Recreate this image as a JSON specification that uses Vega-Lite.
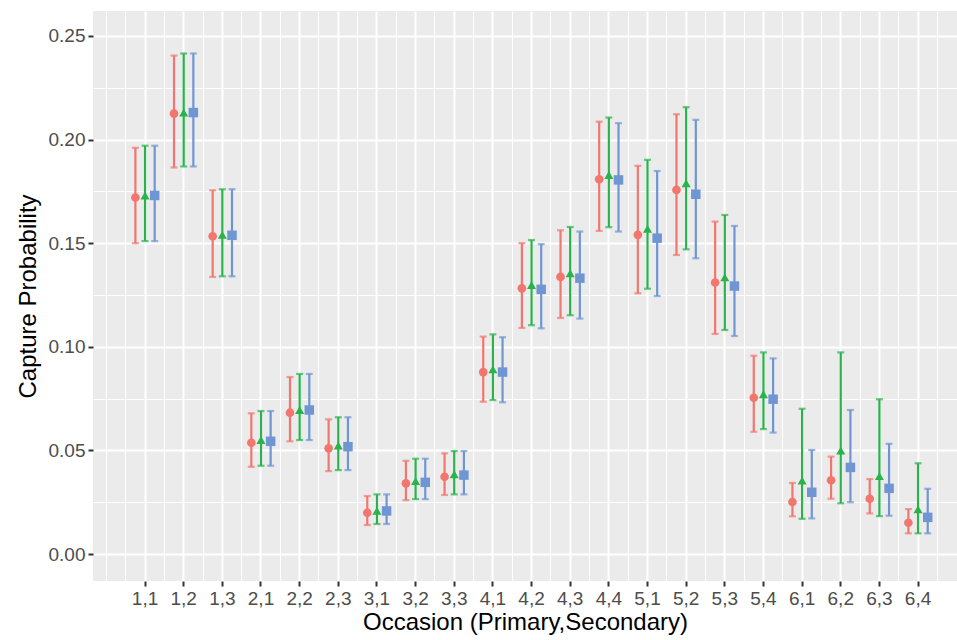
{
  "$schema": "https://vega.github.io/schema/vega-lite/v6.json",
  "width": 864,
  "height": 570,
  "autosize": {"type": "none"},
  "padding": {"left": 93, "top": 11, "right": 0, "bottom": 59},
  "background": "white",
  "config": {
    "view": {"fill": "#EBEBEB", "stroke": null},
    "font": "Liberation Sans",
    "axis": {
      "domain": false,
      "gridColor": "#FFFFFF",
      "labelColor": "#4D4D4D",
      "labelFontSize": 19,
      "labelFont": "Liberation Sans",
      "tickColor": "#333333",
      "tickSize": 5,
      "tickWidth": 2,
      "titleColor": "#000000",
      "titleFontSize": 24,
      "titleFontWeight": "normal",
      "titleFont": "Liberation Sans"
    }
  },
  "data": {
    "values": [
      {"occ": "1,1", "model": "A", "est": 0.172, "lo": 0.150, "hi": 0.196},
      {"occ": "1,1", "model": "B", "est": 0.173, "lo": 0.151, "hi": 0.197},
      {"occ": "1,1", "model": "C", "est": 0.173, "lo": 0.151, "hi": 0.197},
      {"occ": "1,2", "model": "A", "est": 0.2125, "lo": 0.1865, "hi": 0.2405},
      {"occ": "1,2", "model": "B", "est": 0.213, "lo": 0.187, "hi": 0.2415},
      {"occ": "1,2", "model": "C", "est": 0.213, "lo": 0.187, "hi": 0.2415},
      {"occ": "1,3", "model": "A", "est": 0.1533, "lo": 0.1337, "hi": 0.1755},
      {"occ": "1,3", "model": "B", "est": 0.154, "lo": 0.134, "hi": 0.176},
      {"occ": "1,3", "model": "C", "est": 0.1538, "lo": 0.134, "hi": 0.176},
      {"occ": "2,1", "model": "A", "est": 0.0537, "lo": 0.0421, "hi": 0.0679},
      {"occ": "2,1", "model": "B", "est": 0.055, "lo": 0.0426, "hi": 0.069},
      {"occ": "2,1", "model": "C", "est": 0.0544, "lo": 0.0426, "hi": 0.069},
      {"occ": "2,2", "model": "A", "est": 0.0682, "lo": 0.0544, "hi": 0.0854},
      {"occ": "2,2", "model": "B", "est": 0.0695, "lo": 0.055, "hi": 0.0869},
      {"occ": "2,2", "model": "C", "est": 0.0695, "lo": 0.055, "hi": 0.0869},
      {"occ": "2,3", "model": "A", "est": 0.051, "lo": 0.040, "hi": 0.065},
      {"occ": "2,3", "model": "B", "est": 0.0523, "lo": 0.0405, "hi": 0.066},
      {"occ": "2,3", "model": "C", "est": 0.0518, "lo": 0.0405, "hi": 0.066},
      {"occ": "3,1", "model": "A", "est": 0.0199, "lo": 0.014, "hi": 0.028},
      {"occ": "3,1", "model": "B", "est": 0.0208, "lo": 0.0145, "hi": 0.0288},
      {"occ": "3,1", "model": "C", "est": 0.0208, "lo": 0.0145, "hi": 0.0288},
      {"occ": "3,2", "model": "A", "est": 0.0341, "lo": 0.026, "hi": 0.045},
      {"occ": "3,2", "model": "B", "est": 0.0352, "lo": 0.0265, "hi": 0.046},
      {"occ": "3,2", "model": "C", "est": 0.0346, "lo": 0.0265, "hi": 0.046},
      {"occ": "3,3", "model": "A", "est": 0.0373, "lo": 0.0285, "hi": 0.0486},
      {"occ": "3,3", "model": "B", "est": 0.0385, "lo": 0.0288, "hi": 0.0497},
      {"occ": "3,3", "model": "C", "est": 0.0381, "lo": 0.0288, "hi": 0.0497},
      {"occ": "4,1", "model": "A", "est": 0.0878, "lo": 0.0735, "hi": 0.1049},
      {"occ": "4,1", "model": "B", "est": 0.0891, "lo": 0.0743, "hi": 0.106},
      {"occ": "4,1", "model": "C", "est": 0.0878, "lo": 0.0732, "hi": 0.1046},
      {"occ": "4,2", "model": "A", "est": 0.1282, "lo": 0.1091, "hi": 0.150},
      {"occ": "4,2", "model": "B", "est": 0.1298, "lo": 0.1104, "hi": 0.1515},
      {"occ": "4,2", "model": "C", "est": 0.1277, "lo": 0.1089, "hi": 0.1495},
      {"occ": "4,3", "model": "A", "est": 0.1337, "lo": 0.1139, "hi": 0.1562},
      {"occ": "4,3", "model": "B", "est": 0.1355, "lo": 0.1152, "hi": 0.1578},
      {"occ": "4,3", "model": "C", "est": 0.1331, "lo": 0.1136, "hi": 0.1556},
      {"occ": "4,4", "model": "A", "est": 0.1808, "lo": 0.1559, "hi": 0.2086},
      {"occ": "4,4", "model": "B", "est": 0.1829, "lo": 0.1577, "hi": 0.2106},
      {"occ": "4,4", "model": "C", "est": 0.1805, "lo": 0.1556, "hi": 0.2079},
      {"occ": "5,1", "model": "A", "est": 0.154, "lo": 0.1258, "hi": 0.1873},
      {"occ": "5,1", "model": "B", "est": 0.1569, "lo": 0.128, "hi": 0.1902},
      {"occ": "5,1", "model": "C", "est": 0.1524, "lo": 0.1245, "hi": 0.1848},
      {"occ": "5,2", "model": "A", "est": 0.1757, "lo": 0.1443, "hi": 0.2122},
      {"occ": "5,2", "model": "B", "est": 0.1789, "lo": 0.147, "hi": 0.2156},
      {"occ": "5,2", "model": "C", "est": 0.1736, "lo": 0.1427, "hi": 0.2095},
      {"occ": "5,3", "model": "A", "est": 0.131, "lo": 0.1062, "hi": 0.1604},
      {"occ": "5,3", "model": "B", "est": 0.1335, "lo": 0.1081, "hi": 0.1636},
      {"occ": "5,3", "model": "C", "est": 0.1293, "lo": 0.1052, "hi": 0.1583},
      {"occ": "5,4", "model": "A", "est": 0.0754, "lo": 0.059, "hi": 0.0957},
      {"occ": "5,4", "model": "B", "est": 0.0771, "lo": 0.0603, "hi": 0.0973},
      {"occ": "5,4", "model": "C", "est": 0.0747, "lo": 0.0586, "hi": 0.0944},
      {"occ": "6,1", "model": "A", "est": 0.0251, "lo": 0.0182, "hi": 0.0343},
      {"occ": "6,1", "model": "B", "est": 0.0354, "lo": 0.017, "hi": 0.0701},
      {"occ": "6,1", "model": "C", "est": 0.0298, "lo": 0.0172, "hi": 0.0502},
      {"occ": "6,2", "model": "A", "est": 0.0356, "lo": 0.0267, "hi": 0.047},
      {"occ": "6,2", "model": "B", "est": 0.0499, "lo": 0.0245, "hi": 0.0973},
      {"occ": "6,2", "model": "C", "est": 0.0418, "lo": 0.025, "hi": 0.0695},
      {"occ": "6,3", "model": "A", "est": 0.0267, "lo": 0.0196, "hi": 0.0362},
      {"occ": "6,3", "model": "B", "est": 0.0376, "lo": 0.0183, "hi": 0.0747},
      {"occ": "6,3", "model": "C", "est": 0.0317, "lo": 0.0185, "hi": 0.0532},
      {"occ": "6,4", "model": "A", "est": 0.0151, "lo": 0.010, "hi": 0.0217},
      {"occ": "6,4", "model": "B", "est": 0.0216, "lo": 0.010, "hi": 0.0438},
      {"occ": "6,4", "model": "C", "est": 0.0177, "lo": 0.010, "hi": 0.0315}
    ]
  },
  "encoding": {
    "xOffset": {"field": "model", "type": "nominal", "scale": {"type": "point", "domain": ["A", "B", "C"], "padding": 1.478}},
    "color": {"field": "model", "type": "nominal", "scale": {"domain": ["A", "B", "C"], "range": ["#F3766E", "#28B34B", "#6F96D3"]}, "legend": null}
  },
  "layer": [
    {
      "mark": {"type": "rule", "strokeWidth": 2.2},
      "encoding": {
        "x": {"field": "occ", "type": "ordinal", "scale": {"type": "band", "paddingInner": 0, "paddingOuter": 0.677, "align": 0.625},
          "axis": {"orient": "bottom", "bandPosition": 0.5, "grid": true, "gridWidth": 2, "labelAngle": 0, "labelPadding": 3, "title": "Occasion (Primary,Secondary)", "titlePadding": 2}},
        "y": {"field": "lo", "type": "quantitative", "scale": {"domain": [-0.013, 0.262], "nice": false, "zero": false},
          "axis": {"orient": "left", "values": [0, 0.05, 0.1, 0.15, 0.2, 0.25], "format": ".2f", "grid": true, "gridWidth": 2, "labelPadding": 3, "title": "Capture Probability", "titlePadding": 8}},
        "y2": {"field": "hi"}
      }
    },
    {
      "mark": {"type": "tick", "orient": "horizontal", "size": 7, "thickness": 2.2},
      "encoding": {
        "x": {"field": "occ", "type": "ordinal",
          "axis": {"orient": "top", "bandPosition": 0, "grid": true, "gridWidth": 1, "labels": false, "ticks": false, "title": null}},
        "y": {"field": "lo", "type": "quantitative",
          "axis": {"orient": "right", "values": [0.025, 0.075, 0.125, 0.175, 0.225], "grid": true, "gridWidth": 1, "labels": false, "ticks": false, "title": null}}
      }
    },
    {
      "mark": {"type": "tick", "orient": "horizontal", "size": 7, "thickness": 2.2},
      "encoding": {
        "x": {"field": "occ", "type": "ordinal",
          "axis": {"orient": "top", "values": ["6,4"], "bandPosition": 1, "grid": true, "gridWidth": 1, "labels": false, "ticks": false, "title": null}},
        "y": {"field": "hi", "type": "quantitative", "axis": null}
      }
    },
    {
      "mark": {"type": "point", "filled": true, "opacity": 1},
      "encoding": {
        "x": {"field": "occ", "type": "ordinal",
          "axis": {"orient": "bottom", "values": ["1,1"], "bandPosition": -0.5, "grid": true, "gridWidth": 1, "labels": false, "ticks": false, "title": null}},
        "y": {"field": "est", "type": "quantitative", "axis": null},
        "shape": {"field": "model", "type": "nominal", "scale": {"domain": ["A", "B", "C"], "range": ["circle", "triangle-up", "square"]}, "legend": null},
        "size": {"field": "model", "type": "nominal", "scale": {"domain": ["A", "B", "C"], "range": [75, 90, 90]}, "legend": null}
      }
    }
  ],
  "resolve": {"axis": {"x": "independent", "y": "independent"}}
}
